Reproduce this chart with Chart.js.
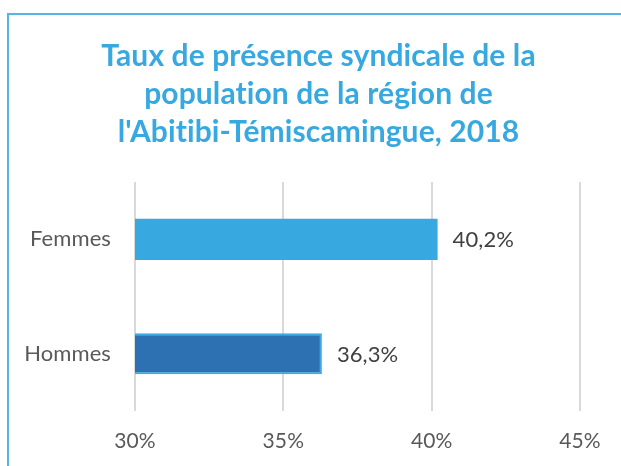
<!DOCTYPE html>
<html><head><meta charset="utf-8">
<script src="https://cdn.jsdelivr.net/npm/chart.js@4.4.1/dist/chart.umd.min.js"></script>
<style>
html,body{margin:0;padding:0;background:#fff;overflow:hidden;}
#wrap{position:absolute;left:0;top:0;width:621px;height:466px;}
#frame{position:absolute;left:7px;top:13px;width:640px;height:480px;border:2px solid #55B5E8;pointer-events:none;}
</style></head>
<body>
<div id="wrap"><canvas id="c" width="621" height="466"></canvas></div>
<div id="frame"></div>
<script>
const titleLines = ["Taux de présence syndicale de la", "population de la région de", "l'Abitibi-Témiscamingue, 2018"];
const categories = ["Femmes", "Hommes"];
const values = [40.2, 36.3];
const valueLabels = ["40,2%", "36,3%"];
const tickValues = [30, 35, 40, 45];
const barColors = ["#37A9E0", "#2E71B3"];
const barBorders = ["#37A9E0", "#3DAAE4"];

const FONT = 'Lato, "Open Sans", sans-serif';

const noLigatures = {
  id: 'noLigatures',
  beforeDraw(chart) { try { chart.ctx.letterSpacing = '0.1px'; } catch (e) {} }
};

const labelPlugin = {
  id: 'valueLabels',
  afterDatasetsDraw(chart) {
    const ctx = chart.ctx;
    const meta = chart.getDatasetMeta(0);
    ctx.save();
    ctx.font = '22px ' + FONT;
    ctx.fillStyle = '#404040';
    ctx.textAlign = 'left';
    ctx.textBaseline = 'middle';
    meta.data.forEach((el, i) => {
      ctx.fillText(valueLabels[i], el.x + 15, el.y + 1);
    });
    ctx.restore();
  }
};

new Chart(document.getElementById('c'), {
  type: 'bar',
  data: {
    labels: categories,
    datasets: [{
      data: values,
      backgroundColor: barColors,
      borderColor: barBorders,
      borderWidth: [0, 2],
      borderSkipped: false,
      barPercentage: 0.6,
      categoryPercentage: 0.6
    }]
  },
  options: {
    indexAxis: 'y',
    responsive: false,
    animation: false,
    devicePixelRatio: 1,
    layout: { padding: { left: 16, right: 0, top: 0, bottom: 0 } },
    plugins: {
      legend: { display: false },
      tooltip: { enabled: false },
      title: {
        display: true,
        text: titleLines,
        color: '#37A9E0',
        font: { family: FONT, size: 30, weight: 'bold', lineHeight: 1.267 },
        padding: { top: 37, bottom: 31 }
      }
    },
    scales: {
      x: {
        min: 30, max: 45,
        afterBuildTicks(scale) { scale.ticks = tickValues.map(v => ({ value: v })); },
        afterFit(scale) { scale.height = 55; },
        grid: { color: '#D9D9D9', lineWidth: 2, drawTicks: false },
        border: { display: false },
        ticks: {
          padding: 18,
          color: '#595959',
          font: { family: FONT, size: 21 },
          callback: (v) => v + '%'
        }
      },
      y: {
        afterFit(scale) { scale.width = 119; },
        grid: { display: false, drawTicks: false },
        border: { display: false },
        ticks: {
          padding: 24,
          color: '#595959',
          font: { family: FONT, size: 22 }
        }
      },
      yRight: {
        position: 'right',
        type: 'category',
        display: true,
        afterFit(scale) { scale.width = 41; },
        grid: { display: false, drawTicks: false },
        border: { display: false },
        ticks: { display: false }
      }
    }
  },
  plugins: [noLigatures, labelPlugin]
});
</script>
</body></html>
